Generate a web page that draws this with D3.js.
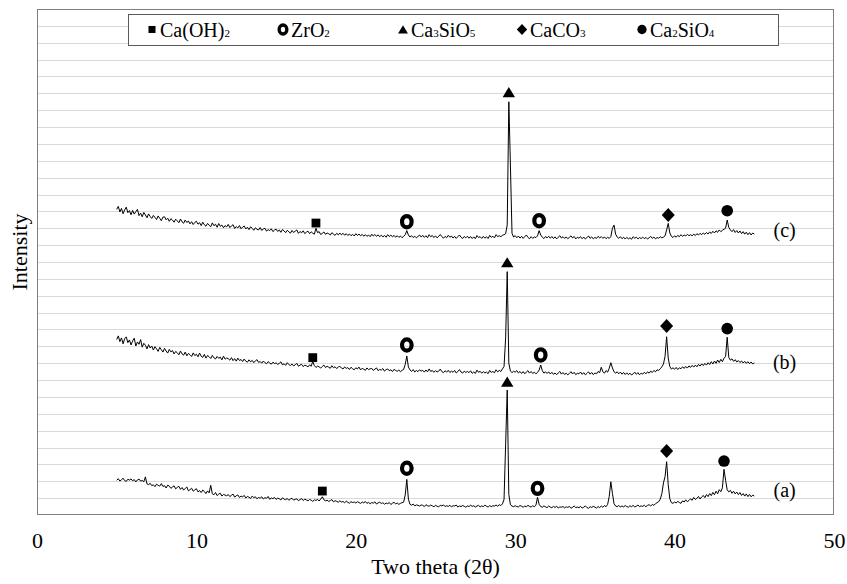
<!DOCTYPE html>
<html>
<head>
<meta charset="utf-8">
<script src="https://cdn.jsdelivr.net/npm/d3@7"></script>
<style>
html, body { margin: 0; padding: 0; background: #fff; }
svg text { font-family: "Liberation Serif", "Times New Roman", serif; fill: #000; }
</style>
</head>
<body>
<svg id="chart" width="847" height="584"></svg>
<script>
// sampling grid of the scans (degrees 2θ)
const thetaStart = 5, thetaStep = 0.1;
const xTicks = [0, 10, 20, 30, 40, 50];

// (a) intensity, one line per degree
const intensityA = [
 206, 215, 201, 209, 218, 204, 199, 212, 207, 214, // 5
 203, 210, 196, 208, 213, 201, 205, 197, 226, 184, // 6
 180, 188, 174, 179, 168, 183, 176, 171, 186, 169, // 7
 174, 160, 177, 171, 158, 166, 173, 155, 164, 170, // 8
 152, 163, 148, 157, 166, 143, 150, 159, 141, 149, // 9
 156, 137, 145, 133, 148, 139, 127, 143, 131, 176, // 10
 126, 120, 133, 115, 124, 129, 112, 122, 118, 114, // 11
 121, 109, 117, 124, 106, 114, 119, 104, 112, 108, // 12
 116, 101, 110, 105, 98, 112, 103, 108, 96, 104,   // 13
 100, 108, 95, 103, 99, 110, 93, 101, 97, 104,     // 14
 92, 100, 96, 89, 102, 94, 91, 98, 87, 95,         // 15
 99, 88, 93, 96, 85, 91, 97, 86, 94, 89,           // 16
 84, 92, 88, 81, 90, 86, 93, 83, 95, 108,          // 17
 90, 84, 88, 80, 86, 91, 78, 85, 81, 76,           // 18
 84, 77, 80, 73, 82, 75, 70, 79, 74, 77,           // 19
 71, 79, 74, 68, 77, 72, 80, 69, 75, 66,           // 20
 74, 70, 78, 65, 72, 76, 68, 73, 64, 71,           // 21
 67, 74, 62, 70, 75, 66, 71, 63, 69, 73,           // 22
 76, 118, 211, 94, 63, 58, 65, 54, 60, 57,         // 23
 53, 60, 57, 50, 61, 55, 52, 59, 54, 49,           // 24
 57, 52, 48, 58, 54, 60, 50, 55, 51, 57,           // 25
 49, 55, 53, 59, 47, 54, 50, 56, 52, 46,           // 26
 54, 50, 58, 51, 55, 47, 53, 57, 48, 54,           // 27
 50, 58, 52, 47, 56, 49, 55, 53, 59, 52,           // 28
 61, 56, 66, 92, 420, 741, 122, 61, 53, 49,        // 29
 55, 50, 48, 56, 52, 46, 53, 49, 57, 51,           // 30
 47, 55, 49, 58, 105, 63, 50, 46, 54, 48,          // 31
 44, 53, 47, 43, 51, 45, 52, 41, 48, 46,           // 32
 50, 42, 49, 45, 51, 40, 46, 53, 44, 47,           // 33
 43, 51, 41, 46, 54, 44, 40, 49, 45, 51,           // 34
 47, 41, 50, 44, 53, 46, 56, 49, 63, 110,          // 35
 197, 128, 67, 53, 49, 57, 47, 54, 48, 56,         // 36
 50, 46, 55, 49, 57, 48, 52, 59, 50, 54,           // 37
 51, 58, 49, 57, 61, 53, 63, 57, 67, 73,           // 38
 79, 94, 126, 190, 227, 316, 180, 96, 73, 69,      // 39
 77, 71, 81, 74, 69, 84, 77, 90, 79, 86,           // 40
 96, 87, 104, 92, 99, 110, 95, 107, 116, 103,      // 41
 121, 109, 127, 115, 134, 120, 141, 126, 150, 138, // 42
 161, 271, 206, 149, 137, 146, 129, 141, 125, 136, // 43
 121, 133, 116, 127, 112, 125, 109, 122, 108, 118, // 44
 112
];

// (b) intensity
const intensityB = [
 1040, 1062, 1028, 1050, 1015, 1045, 1056, 1022, 1038, 1008, // 5
 1032, 1048, 1002, 1026, 1012, 1040, 995, 1018, 1006, 985,   // 6
 1010, 990, 1002, 978, 998, 985, 970, 994, 980, 966,         // 7
 988, 972, 960, 982, 967, 975, 955, 970, 962, 950,           // 8
 972, 955, 948, 966, 944, 958, 950, 940, 961, 945,           // 9
 953, 938, 960, 941, 935, 952, 930, 946, 938, 928,           // 10
 946, 932, 925, 940, 929, 936, 920, 942, 924, 931,           // 11
 926, 918, 933, 915, 927, 912, 930, 916, 922, 910,           // 12
 925, 912, 906, 920, 908, 917, 903, 914, 921, 905,           // 13
 910, 900, 913, 903, 897, 909, 901, 894, 906, 898,           // 14
 902, 893, 899, 908, 890, 897, 887, 903, 892, 886,           // 15
 895, 884, 891, 899, 882, 889, 893, 880, 888, 885,           // 16
 878, 890, 882, 910, 886, 875, 883, 878, 871, 881,           // 17
 889, 874, 882, 876, 870, 885, 873, 879, 868, 877,           // 18
 882, 871, 866, 878, 869, 874, 863, 876, 867, 861,           // 19
 873, 866, 877, 860, 870, 864, 858, 872, 862, 867,           // 20
 869, 857, 865, 872, 856, 863, 859, 868, 853, 862,           // 21
 866, 855, 861, 850, 864, 857, 852, 860, 849, 858,           // 22
 863, 892, 943, 878, 860, 851, 862, 848, 857, 850,           // 23
 861, 853, 858, 847, 860, 849, 866, 851, 857, 846,           // 24
 856, 848, 853, 865, 850, 844, 855, 847, 858, 845,           // 25
 853, 846, 857, 842, 850, 862, 848, 841, 853, 845,           // 26
 851, 844, 855, 840, 848, 839, 859, 846, 852, 841,           // 27
 850, 842, 847, 838, 857, 845, 851, 843, 861, 849,           // 28
 857, 851, 866, 880, 1050, 1443, 900, 853, 844, 852,         // 29
 847, 856, 842, 851, 839, 850, 837, 848, 856, 841,           // 30
 851, 839, 847, 837, 845, 859, 889, 856, 841, 849,           // 31
 839, 849, 836, 846, 834, 842, 832, 842, 851, 835,           // 32
 845, 833, 841, 831, 839, 850, 836, 846, 832, 840,           // 33
 837, 848, 834, 844, 831, 839, 849, 835, 845, 832,           // 34
 842, 837, 851, 844, 876, 849, 841, 856, 847, 870,           // 35
 903, 872, 849, 841, 849, 837, 847, 835, 845, 833,           // 36
 843, 832, 841, 830, 837, 847, 834, 844, 831, 841,           // 37
 835, 846, 837, 849, 841, 853, 845, 857, 849, 861,           // 38
 857, 867, 879, 895, 940, 1057, 930, 880, 865, 873,          // 39
 864, 875, 862, 873, 867, 879, 869, 881, 871, 884,           // 40
 875, 887, 877, 889, 879, 893, 883, 896, 886, 899,           // 41
 889, 903, 892, 909, 895, 913, 899, 919, 904, 923,           // 42
 909, 929, 940, 1054, 934, 918, 926, 911, 921, 907,          // 43
 916, 904, 913, 901, 911, 899, 909, 897, 907, 896,           // 44
 902
];

// (c) intensity
const intensityC = [
 1812, 1830, 1797, 1818, 1786, 1809, 1825, 1792, 1805, 1780, // 5
 1806, 1784, 1798, 1812, 1775, 1790, 1768, 1794, 1779, 1762, // 6
 1785, 1770, 1758, 1776, 1764, 1752, 1773, 1759, 1745, 1766, // 7
 1768, 1750, 1760, 1741, 1757, 1748, 1736, 1754, 1744, 1733, // 8
 1755, 1738, 1730, 1749, 1734, 1743, 1726, 1739, 1722, 1735, // 9
 1741, 1724, 1733, 1716, 1736, 1721, 1712, 1729, 1718, 1709, // 10
 1732, 1715, 1724, 1706, 1728, 1711, 1719, 1703, 1716, 1708, // 11
 1723, 1704, 1714, 1721, 1699, 1710, 1702, 1716, 1697, 1707, // 12
 1713, 1696, 1706, 1692, 1709, 1699, 1688, 1703, 1694, 1690, // 13
 1704, 1687, 1696, 1700, 1683, 1692, 1686, 1697, 1680, 1689, // 14
 1695, 1681, 1690, 1676, 1693, 1684, 1674, 1688, 1679, 1671, // 15
 1687, 1675, 1683, 1690, 1670, 1681, 1673, 1685, 1668, 1677, // 16
 1683, 1668, 1679, 1671, 1665, 1700, 1674, 1680, 1663, 1670, // 17
 1678, 1664, 1672, 1668, 1660, 1674, 1665, 1658, 1670, 1661, // 18
 1672, 1661, 1670, 1659, 1668, 1657, 1666, 1656, 1664, 1654, // 19
 1668, 1657, 1666, 1655, 1664, 1653, 1662, 1652, 1660, 1650, // 20
 1665, 1654, 1663, 1652, 1661, 1650, 1659, 1649, 1657, 1647, // 21
 1662, 1651, 1660, 1649, 1658, 1647, 1656, 1646, 1654, 1644, // 22
 1652, 1662, 1686, 1660, 1648, 1656, 1645, 1653, 1643, 1651, // 23
 1660, 1648, 1658, 1646, 1656, 1644, 1662, 1650, 1657, 1645, // 24
 1655, 1643, 1653, 1663, 1650, 1641, 1652, 1644, 1658, 1647, // 25
 1654, 1642, 1652, 1640, 1650, 1660, 1647, 1639, 1651, 1643, // 26
 1653, 1641, 1651, 1639, 1649, 1638, 1657, 1645, 1650, 1640, // 27
 1652, 1641, 1650, 1639, 1658, 1646, 1653, 1643, 1662, 1650, // 28
 1656, 1650, 1658, 1662, 1668, 1720, 2450, 2075, 1670, 1648, // 29
 1656, 1644, 1654, 1642, 1652, 1640, 1650, 1660, 1646, 1638, // 30
 1650, 1640, 1648, 1645, 1655, 1686, 1660, 1647, 1639, 1651, // 31
 1643, 1653, 1641, 1651, 1639, 1649, 1637, 1647, 1656, 1642, // 32
 1650, 1640, 1648, 1638, 1646, 1655, 1643, 1651, 1637, 1647, // 33
 1641, 1650, 1638, 1648, 1636, 1645, 1654, 1640, 1649, 1637, // 34
 1646, 1640, 1652, 1643, 1650, 1641, 1648, 1638, 1647, 1640, // 35
 1650, 1700, 1719, 1665, 1648, 1640, 1650, 1638, 1647, 1636, // 36
 1646, 1637, 1644, 1635, 1650, 1641, 1647, 1637, 1645, 1639, // 37
 1648, 1638, 1646, 1636, 1644, 1652, 1640, 1648, 1637, 1645, // 38
 1641, 1650, 1643, 1648, 1655, 1690, 1729, 1672, 1652, 1645, // 39
 1655, 1647, 1658, 1650, 1662, 1652, 1660, 1654, 1664, 1656, // 40
 1662, 1655, 1665, 1657, 1668, 1660, 1670, 1662, 1672, 1664, // 41
 1675, 1666, 1678, 1669, 1682, 1672, 1685, 1676, 1690, 1680, // 42
 1688, 1694, 1700, 1749, 1705, 1690, 1680, 1692, 1675, 1686, // 43
 1672, 1684, 1668, 1680, 1665, 1677, 1662, 1674, 1660, 1672, // 44
 1666
];

const seriesLabels = ["(a)", "(b)", "(c)"];
const seriesLabelLevel = [150, 905, 1690];

// phase markers above the peaks
const markerTypes = ["square", "ring", "triangle", "ring", "diamond", "circle"];
const markerThetaA = [17.9, 23.2, 29.5, 31.4, 39.5, 43.1];
const markerLevelA = [142, 277, 790, 158, 379, 320];
const markerThetaB = [17.3, 23.2, 29.5, 31.6, 39.5, 43.3];
const markerLevelB = [933, 1008, 1498, 949, 1121, 1105];
const markerThetaC = [17.5, 23.2, 29.6, 31.5, 39.6, 43.3];
const markerLevelC = [1731, 1739, 2506, 1745, 1779, 1804];

// legend
const legendTypes = ["square", "ring", "triangle", "diamond", "circle"];
const legendNames = [
  [["Ca(OH)", 0], ["2", 1]],
  [["ZrO", 0], ["2", 1]],
  [["Ca", 0], ["3", 1], ["SiO", 0], ["5", 1]],
  [["CaCO", 0], ["3", 1]],
  [["Ca", 0], ["2", 1], ["SiO", 0], ["4", 1]]
];

const svg = d3.select("#chart");
const plot = {left: 37, right: 834, top: 9, bottom: 515};

const x = d3.scaleLinear().domain([0, 50]).range([plot.left, plot.right]);
const y = d3.scaleLinear().domain([0, 3000]).range([plot.bottom, plot.top]);

// horizontal gridlines
svg.append("g")
  .selectAll("line")
  .data(y.ticks(30).filter(d => d > 0 && d < 3000))
  .join("line")
  .attr("x1", plot.left).attr("x2", plot.right)
  .attr("y1", d => Math.round(y(d)) + 0.5).attr("y2", d => Math.round(y(d)) + 0.5)
  .attr("stroke", "#d9d9d9").attr("stroke-width", 1);

// x axis labels (no tick marks)
const xAxis = svg.append("g")
  .attr("transform", `translate(0,${plot.bottom})`)
  .call(d3.axisBottom(x).tickValues(xTicks).tickSize(0).tickPadding(17));
xAxis.select(".domain").remove();
xAxis.selectAll("text")
  .attr("font-size", 22)
  .attr("font-family", "'Liberation Serif','Times New Roman',serif");

// traces
const line = d3.line()
  .x((d, i) => x(thetaStart + i * thetaStep))
  .y(d => y(d));

[intensityA, intensityB, intensityC].forEach(s => {
  svg.append("path")
    .datum(s)
    .attr("d", line)
    .attr("fill", "none")
    .attr("stroke", "#000")
    .attr("stroke-width", 1)
    .attr("stroke-linejoin", "round");
});

// marker drawing
function drawMarker(g, type, cx, cy, k) {
  if (type === "square") {
    g.append("rect").attr("x", cx - 4.4 * k).attr("y", cy - 4.4 * k)
      .attr("width", 8.8 * k).attr("height", 8.8 * k).attr("fill", "#000");
  } else if (type === "ring") {
    g.append("ellipse").attr("cx", cx).attr("cy", cy)
      .attr("rx", 4.8 * k).attr("ry", 5.6 * k)
      .attr("fill", "none").attr("stroke", "#000").attr("stroke-width", 4.2 * k);
  } else if (type === "triangle") {
    g.append("path")
      .attr("d", `M${cx},${cy - 5.2 * k}L${cx + 6.2 * k},${cy + 5 * k}L${cx - 6.2 * k},${cy + 5 * k}Z`)
      .attr("fill", "#000");
  } else if (type === "diamond") {
    g.append("path")
      .attr("d", `M${cx},${cy - 7 * k}L${cx + 6.5 * k},${cy}L${cx},${cy + 7 * k}L${cx - 6.5 * k},${cy}Z`)
      .attr("fill", "#000");
  } else {
    g.append("circle").attr("cx", cx).attr("cy", cy).attr("r", 5.8 * k).attr("fill", "#000");
  }
}

const markerG = svg.append("g");
[[markerThetaA, markerLevelA], [markerThetaB, markerLevelB], [markerThetaC, markerLevelC]]
  .forEach(([th, lv]) => {
    th.forEach((t, i) => drawMarker(markerG, markerTypes[i], x(t), y(lv[i]), 1));
  });

// series labels
svg.append("g")
  .selectAll("text")
  .data(seriesLabels)
  .join("text")
  .attr("x", x(46.9))
  .attr("y", (d, i) => y(seriesLabelLevel[i]))
  .attr("dy", "0.35em")
  .attr("text-anchor", "middle")
  .attr("font-size", 20)
  .text(d => d);

// frame
svg.append("rect")
  .attr("x", plot.left + 0.5).attr("y", plot.top + 0.5)
  .attr("width", plot.right - plot.left - 1).attr("height", plot.bottom - plot.top - 1)
  .attr("fill", "none").attr("stroke", "#7f7f7f").attr("stroke-width", 1);

// legend
const legendBox = {x: 128, y: 14, w: 650, h: 31};
svg.append("rect")
  .attr("x", legendBox.x + 0.5).attr("y", legendBox.y + 0.5)
  .attr("width", legendBox.w).attr("height", legendBox.h)
  .attr("fill", "#fff").attr("stroke", "#595959").attr("stroke-width", 1);

const legendX = [152, 283, 403, 522, 642];
const legendG = svg.append("g");
legendTypes.forEach((t, i) => {
  const cy = legendBox.y + legendBox.h / 2;
  drawMarker(legendG, t, legendX[i], cy, 0.8);
  const txt = legendG.append("text")
    .attr("x", legendX[i] + 8).attr("y", cy + 7)
    .attr("font-size", 20);
  legendNames[i].forEach(([s, sub]) => {
    txt.append("tspan")
      .attr("font-size", sub ? 11 : 20)
      .text(s);
  });
});

// axis titles
svg.append("text")
  .attr("x", (plot.left + plot.right) / 2)
  .attr("y", 574)
  .attr("text-anchor", "middle")
  .attr("font-size", 22)
  .text("Two theta (2θ)");

svg.append("text")
  .attr("transform", `translate(27,252) rotate(-90)`)
  .attr("text-anchor", "middle")
  .attr("font-size", 22)
  .text("Intensity");
</script>
</body>
</html>
